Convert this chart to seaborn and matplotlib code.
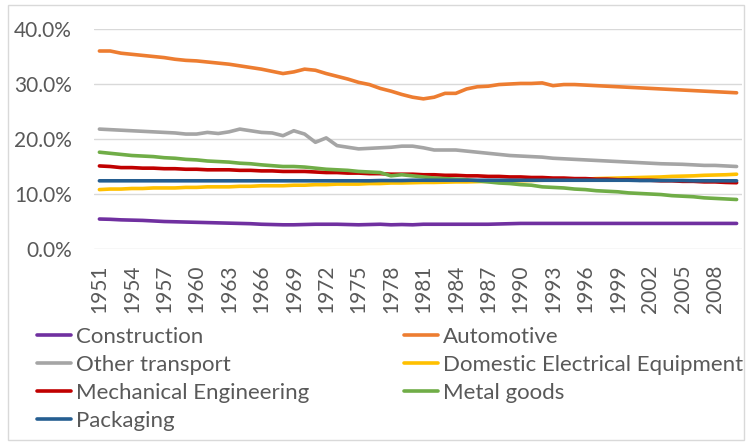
import numpy as np
import pandas as pd
import seaborn as sns
import matplotlib
matplotlib.use("Agg")
import matplotlib.pyplot as plt
from matplotlib.ticker import PercentFormatter
from matplotlib.patches import Rectangle
from matplotlib.lines import Line2D

years = list(range(1951, 2011))

construction = [5.45, 5.4, 5.3, 5.25, 5.2, 5.1, 5.0, 4.95, 4.9, 4.85,
                4.8, 4.75, 4.7, 4.65, 4.6, 4.5, 4.45, 4.4, 4.4, 4.45,
                4.5, 4.5, 4.5, 4.45, 4.4, 4.45, 4.5, 4.4, 4.45, 4.4,
                4.5, 4.5, 4.5, 4.5, 4.5, 4.5, 4.5, 4.55, 4.6, 4.65,
                4.65, 4.65, 4.65, 4.65, 4.65, 4.65, 4.65, 4.65, 4.65, 4.65,
                4.65, 4.65, 4.65, 4.65, 4.65, 4.65, 4.65, 4.65, 4.65, 4.65]
automotive = [36.0, 36.0, 35.6, 35.4, 35.2, 35.0, 34.8, 34.5, 34.3, 34.2,
              34.0, 33.8, 33.6, 33.3, 33.0, 32.7, 32.3, 31.9, 32.2, 32.7,
              32.5, 31.9, 31.4, 30.9, 30.3, 29.9, 29.2, 28.7, 28.1, 27.6,
              27.3, 27.6, 28.3, 28.3, 29.1, 29.5, 29.6, 29.9, 30.0, 30.1,
              30.1, 30.2, 29.7, 29.9, 29.9, 29.8, 29.7, 29.6, 29.5, 29.4,
              29.3, 29.2, 29.1, 29.0, 28.9, 28.8, 28.7, 28.6, 28.5, 28.4]
other_transport = [21.8, 21.7, 21.6, 21.5, 21.4, 21.3, 21.2, 21.1, 20.9, 20.9,
                   21.2, 21.0, 21.3, 21.8, 21.5, 21.2, 21.1, 20.6, 21.5, 20.9,
                   19.4, 20.2, 18.8, 18.5, 18.2, 18.3, 18.4, 18.5, 18.7, 18.7,
                   18.4, 18.0, 18.0, 18.0, 17.8, 17.6, 17.4, 17.2, 17.0, 16.9,
                   16.8, 16.7, 16.5, 16.4, 16.3, 16.2, 16.1, 16.0, 15.9, 15.8,
                   15.7, 15.6, 15.5, 15.45, 15.4, 15.3, 15.2, 15.2, 15.1, 15.0]
domestic_electrical = [10.8, 10.9, 10.9, 11.0, 11.0, 11.1, 11.1, 11.1, 11.2, 11.2,
                       11.3, 11.3, 11.3, 11.4, 11.4, 11.5, 11.5, 11.5, 11.6, 11.6,
                       11.7, 11.7, 11.8, 11.8, 11.8, 11.9, 11.9, 12.0, 12.0, 12.05,
                       12.1, 12.1, 12.15, 12.2, 12.2, 12.25, 12.3, 12.3, 12.35, 12.4,
                       12.45, 12.5, 12.55, 12.6, 12.65, 12.7, 12.8, 12.85, 12.9, 12.95,
                       13.0, 13.05, 13.1, 13.2, 13.25, 13.3, 13.4, 13.45, 13.5, 13.6]
mechanical_eng = [15.1, 15.0, 14.8, 14.8, 14.7, 14.7, 14.6, 14.6, 14.5, 14.5,
                  14.4, 14.4, 14.4, 14.3, 14.3, 14.2, 14.2, 14.1, 14.1, 14.1,
                  14.0, 13.9, 13.9, 13.8, 13.8, 13.7, 13.7, 13.6, 13.6, 13.6,
                  13.5, 13.5, 13.4, 13.4, 13.3, 13.3, 13.2, 13.2, 13.1, 13.1,
                  13.0, 13.0, 12.9, 12.9, 12.8, 12.8, 12.7, 12.7, 12.6, 12.6,
                  12.5, 12.5, 12.4, 12.4, 12.3, 12.3, 12.2, 12.2, 12.1, 12.05]
metal_goods = [17.6, 17.4, 17.2, 17.0, 16.9, 16.8, 16.6, 16.5, 16.3, 16.2,
               16.0, 15.9, 15.8, 15.6, 15.5, 15.3, 15.15, 15.0, 15.0, 14.9,
               14.7, 14.5, 14.4, 14.3, 14.1, 14.0, 13.9, 13.3, 13.5, 13.3,
               13.1, 12.9, 12.8, 12.7, 12.6, 12.4, 12.2, 12.0, 11.9, 11.7,
               11.6, 11.3, 11.2, 11.1, 10.9, 10.8, 10.6, 10.5, 10.4, 10.2,
               10.1, 10.0, 9.9, 9.7, 9.6, 9.5, 9.3, 9.2, 9.1, 9.0]
packaging = [12.4, 12.4, 12.4, 12.4, 12.4, 12.4, 12.4, 12.4, 12.4, 12.4,
             12.4, 12.4, 12.4, 12.4, 12.4, 12.4, 12.4, 12.4, 12.4, 12.4,
             12.4, 12.4, 12.4, 12.4, 12.4, 12.4, 12.45, 12.45, 12.45, 12.5,
             12.5, 12.5, 12.5, 12.5, 12.5, 12.5, 12.5, 12.5, 12.5, 12.5,
             12.5, 12.5, 12.5, 12.5, 12.5, 12.5, 12.5, 12.5, 12.5, 12.5,
             12.45, 12.45, 12.45, 12.45, 12.45, 12.4, 12.4, 12.4, 12.4, 12.4]

series_names = ["Construction", "Automotive", "Other transport",
                "Domestic Electrical Equipment", "Mechanical Engineering",
                "Metal goods", "Packaging"]
series_values = [construction, automotive, other_transport, domestic_electrical,
                 mechanical_eng, metal_goods, packaging]
colors = ["#7030A0", "#ED7D31", "#A5A5A5", "#FFC000", "#C00000", "#70AD47", "#255E91"]
tick_years = list(range(1951, 2009, 3))

rows = []
for name, vals in zip(series_names, series_values):
    for y, v in zip(years, vals):
        rows.append({"Year": y, "Share": v / 100.0, "Series": name})
df = pd.DataFrame(rows)

sns.set_theme(style="white")
plt.rcParams["font.family"] = ["Lato", "DejaVu Sans"]
text_color = "#595959"
fs = 15
fs_leg = 16

W, H = 746, 442
fig = plt.figure(figsize=(W / 100, H / 100), dpi=100)
fig.patch.set_facecolor("white")
ax = fig.add_axes([94 / W, 1 - 249 / H, (742 - 94) / W, (249 - 29) / H])

sns.lineplot(data=df, x="Year", y="Share", hue="Series", hue_order=series_names,
             palette=colors, linewidth=2.6, ax=ax, legend=False, estimator=None)

ax.set_xlim(1950.5, 2010.5)
ax.set_ylim(0, 0.4)
ax.set_yticks([0, 0.1, 0.2, 0.3, 0.4])
ax.yaxis.set_major_formatter(PercentFormatter(1.0, decimals=1))
ax.set_xticks(tick_years)
ax.set_xticklabels([str(y) for y in tick_years], rotation=90)
ax.set_xlabel("")
ax.set_ylabel("")
ax.grid(axis="y", color="#D9D9D9", linewidth=1.0)
ax.grid(axis="x", visible=False)
ax.set_axisbelow(True)
for s in ax.spines.values():
    s.set_visible(False)
ax.tick_params(axis="y", length=0, pad=16, labelsize=fs, labelcolor=text_color)
ax.tick_params(axis="x", length=0, pad=11, labelsize=fs, labelcolor=text_color)

# Legend in two columns (row-wise order as in reference)
def handles_for(idx):
    return [Line2D([0], [0], color=colors[i], lw=2.6) for i in idx], [series_names[i] for i in idx]

left_idx = [0, 2, 4, 6]
right_idx = [1, 3, 5]
for idx, x0 in ((left_idx, 37), (right_idx, 404)):
    h, l = handles_for(idx)
    leg = fig.legend(h, l, loc="upper left", bbox_to_anchor=(x0 / W, 1 - 327 / H),
                     frameon=False, fontsize=fs_leg, handlelength=1.55, handletextpad=0.2,
                     borderpad=0, borderaxespad=0, labelspacing=0.36, labelcolor=text_color)

fig.patches.append(Rectangle((8 / W, 1 - 440 / H), (744 - 8) / W, (440 - 5) / H,
                             transform=fig.transFigure, fill=False,
                             edgecolor="#D9D9D9", linewidth=1.0))

fig.savefig("out.png", dpi=100, facecolor="white")
